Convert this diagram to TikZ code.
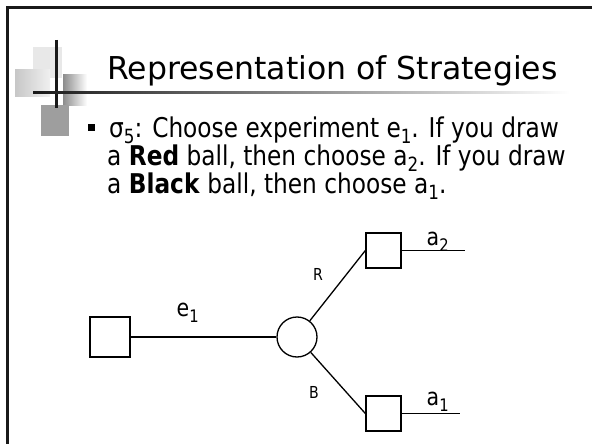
\documentclass[tikz,border=0pt]{standalone}
\usepackage{fontspec}
\setmainfont{DejaVu Sans}
\newfontfamily\bodyfont[FakeStretch=0.855]{DejaVu Sans}
\newcommand\lowidx[1]{\raisebox{-0.25em}{\scalebox{0.72}{#1}}}
\begin{document}
\begin{tikzpicture}[x=1pt,y=-1pt,
  box/.style={draw,line width=1.3pt,minimum size=40pt,inner sep=0pt},
  sbox/.style={draw,line width=1.3pt,minimum size=35pt,inner sep=0pt},
  chance/.style={draw,circle,line width=1.3pt,minimum size=40pt,inner sep=0pt},
  edge/.style={line width=1.3pt},
  lbl/.style={anchor=base west,inner sep=0pt,font=\bodyfont\fontsize{24}{24}\selectfont},
  small/.style={anchor=base west,inner sep=0pt,font=\bodyfont\fontsize{16.5}{16.5}\selectfont},
  body/.style={anchor=base west,inner sep=0pt,font=\bodyfont\fontsize{27.2}{27.2}\selectfont}]
\useasboundingbox (0,0) rectangle (592,444);
\fill[white] (0,0) rectangle (592,444);
% frame (top and left edges)
\draw[line width=2.6pt,black!90] (7.5,444) -- (7.5,7.5) -- (592,7.5);
% decoration
\fill[black!9] (33,47) rectangle (62,78);
\shade[left color=black!22,right color=black!6] (15,70) rectangle (50,97);
\shade[left color=black!45,right color=white] (63,75) rectangle (87,105);
\fill[black!38] (41,105) rectangle (69,136);
\draw[line width=3pt,black!90] (56,40) -- (56,108);
\shade[left color=black!90,right color=white] (33,91.8) rectangle (570,93.4);
% title
\node[anchor=base west,inner sep=0pt,font=\fontsize{31.5}{31.5}\selectfont] (title) at (107,80) {Representation of Strategies};
% bullet
\fill (88,124) rectangle (95,131);
\node[body] (l1) at (109,137) {σ\lowidx{5}: Choose experiment e\lowidx{1}. If you draw};
\node[body] (l2) at (107,165) {a \textbf{Red} ball, then choose a\lowidx{2}. If you draw};
\node[body] (l3) at (107,193) {a \textbf{Black} ball, then choose a\lowidx{1}.};
% tree
\node[box] (d0) at (110,337) {};
\node[chance] (c) at (297,337) {};
\node[sbox] (d1) at (383.5,250.5) {};
\node[sbox] (d2) at (383.5,413.5) {};
\coordinate (end1) at (465,250.5);
\coordinate (end2) at (460,413.5);
\draw[edge] (d0.east) -- (c);
\draw[edge] (c) -- (d1.west);
\draw[edge] (c) -- (d2.west);
\draw[edge] (d1.east) -- (end1);
\draw[edge] (d2.east) -- (end2);
\node[lbl] (le) at (176.5,316.5) {e\lowidx{1}};
\node[lbl] (la2) at (426.5,245) {a\lowidx{2}};
\node[lbl] (la1) at (426.5,405) {a\lowidx{1}};
\node[small] (lr) at (313,280) {R};
\node[small] (lb) at (309,398) {B};
\end{tikzpicture}
\end{document}
